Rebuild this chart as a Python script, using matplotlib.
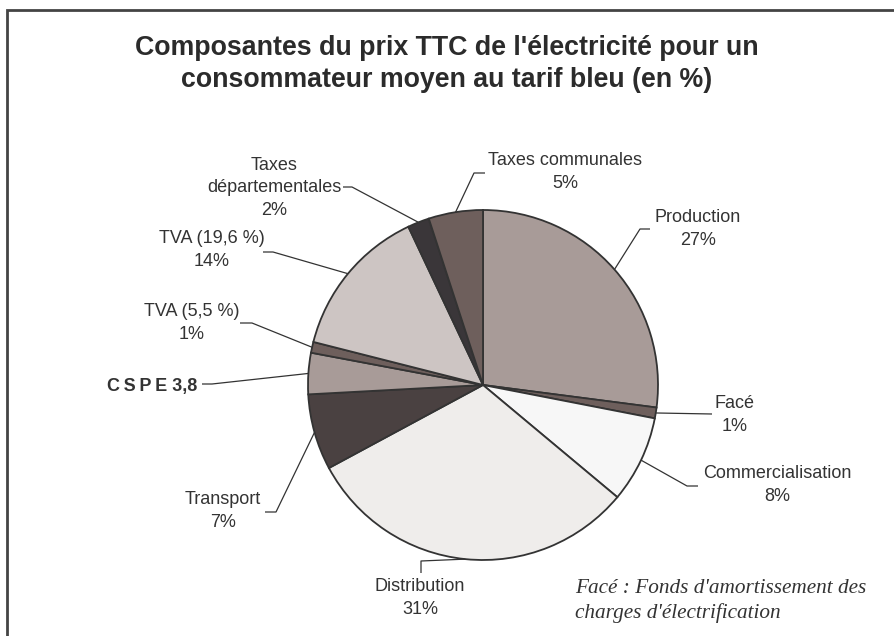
import numpy as np
import matplotlib
matplotlib.use("Agg")
import matplotlib.pyplot as plt

W, H = 895, 636

# slices, clockwise from 12 o'clock
parts = ["Production", "Facé", "Commercialisation", "Distribution", "Transport",
         "CSPE", "TVA (5,5 %)", "TVA (19,6 %)", "Taxes départementales",
         "Taxes communales"]
values = [27, 1, 8, 31, 7, 3.8, 1, 14, 2, 5]
labels = ["Production\n27%", "Facé\n1%", "Commercialisation\n8%",
          "Distribution\n31%", "Transport\n7%", "C\u2009S\u2009P\u2009E 3,8",
          "TVA (5,5 %)\n1%", "TVA (19,6 %)\n14%",
          "Taxes\ndépartementales\n2%", "Taxes communales\n5%"]
colors = ["#a89b98", "#6e5f5c", "#f7f7f7", "#efedeb", "#4a4141",
          "#a89b98", "#6e5f5c", "#cdc5c3", "#3a3639", "#6e5f5c"]

# label layout in pixel coords: text centre, leader elbow, leader end, alignment
layout = [
    ((698, 229), (640, 229), (650, 229), "center"),
    ((735, 415), (712, 414), (712, 414), "center"),
    ((777, 485), (687, 486), (698, 486), "center"),
    ((420, 598), (421, 561), (421, 573), "center"),
    ((223, 511), (276, 512), (265, 512), "center"),
    ((197, 386), (212, 384), (202, 384), "right"),
    ((192, 323), (252, 323), (240, 323), "center"),
    ((212, 250), (273, 252), (263, 252), "center"),
    ((274, 188), (352, 187), (343, 187), "center"),
    ((565, 172), (474, 173), (485, 173), "center"),
]

CX, CY, R = 483, 385, 175


def px(x, y):
    return x, H - y


fig = plt.figure(figsize=(W / 100, H / 100), dpi=100)
ax = fig.add_axes([0, 0, 1, 1])
wedges, _ = ax.pie(values, colors=colors, startangle=90, counterclock=False,
                   center=px(CX, CY), radius=R,
                   wedgeprops=dict(edgecolor="#333333", linewidth=1.3))
ax.set_xlim(0, W)
ax.set_ylim(0, H)
ax.set_aspect("equal")
ax.axis("off")

txt = "#333333"
for w, lab, (tpos, elbow, end, ha) in zip(wedges, labels, layout):
    mid = np.deg2rad((w.theta1 + w.theta2) / 2)
    x0 = w.center[0] + R * np.cos(mid)
    y0 = w.center[1] + R * np.sin(mid)
    ex, ey = px(*elbow)
    fx, fy = px(*end)
    ax.plot([x0, ex, fx], [y0, ey, fy], color="#333333", lw=0.9,
            solid_capstyle="butt")
    bold = lab.startswith("C\u2009S")
    ax.text(*px(*tpos), lab, ha=ha, va="center", fontsize=13,
            family=["Liberation Sans", "DejaVu Sans"], color=txt,
            linespacing=1.45, fontweight="bold" if bold else "normal")

ax.text(*px(447, 64),
        "Composantes du prix TTC de l'électricité pour un\n"
        "consommateur moyen au tarif bleu (en %)",
        ha="center", va="center", fontsize=19.3, fontweight="bold",
        family="Liberation Sans", color="#2b2b2b", linespacing=1.3)

ax.text(*px(575, 601),
        "Facé : Fonds d'amortissement des\ncharges d'électrification",
        ha="left", va="center", fontsize=15.3, style="italic",
        family="Liberation Serif", color="#333333", linespacing=1.3)

# chart frame (left and top edges only visible)
ax.plot([7.5, 7.5, W], [0, H - 9.5, H - 9.5], color="#444444", lw=2,
        solid_joinstyle="miter")

fig.savefig("out.png", dpi=100)
